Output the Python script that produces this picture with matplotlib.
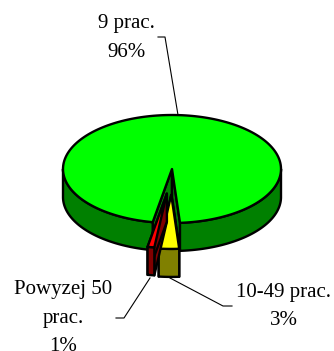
import numpy as np
import matplotlib
matplotlib.use("Agg")
import matplotlib.pyplot as plt
from matplotlib.patches import Polygon

labels = ["9 prac.\n96%", "10-49 prac.\n3%", "Powyzej 50\nprac.\n1%"]
shares = [96, 3, 1]
tops = ["#00ff00", "#ffff00", "#ff0000"]
sides = ["#008000", "#808000", "#800000"]

cx, cy = 172, 169
rx, ry = 109, 54
depth = 28
explode = [0, 0.48, 0.46]
start = -10.2  # degrees from south, going clockwise on screen

plt.rcParams["font.family"] = "Liberation Serif"
fig = plt.figure(figsize=(3.34, 3.51), dpi=100)
ax = fig.add_axes([0, 0, 1, 1])
ax.set_xlim(0, 334)
ax.set_ylim(351, 0)
ax.axis("off")


def rim(a, b, x0, y0):
    t = np.radians(np.linspace(a, b, 200))
    return np.column_stack([x0 + rx * np.sin(t), y0 + ry * np.cos(t)])


def poly(pts, color, z):
    ax.add_patch(Polygon(pts, closed=True, fc=color, ec="black", lw=1.7,
                         joinstyle="round", zorder=z))


def slice3d(a, b, off, top, side, z):
    # a > b, angle falls as the slice runs clockwise on screen
    m = ((a + b) / 2 + 180) % 360 - 180
    mid = np.radians(m * 0.7)
    x0 = cx + off * rx * np.sin(mid)
    y0 = cy + off * ry * np.cos(mid)
    pa = rim(a, a, x0, y0)[0]
    pb = rim(b, b, x0, y0)[0]
    d = np.array([0, depth])
    c = np.array([x0, y0])
    # cut faces first, then the outer wall, then the top
    poly([c, pa, pa + d, c + d], side, z)
    poly([c, pb, pb + d, c + d], side, z)
    for lo, hi in [(-90, 90), (-450, -270)]:
        l = max(lo, b)
        h = min(hi, a)
        if l < h:
            r = rim(h, l, x0, y0)
            poly(np.vstack([r, (r + d)[::-1]]), side, z + 1)
    poly(np.vstack([c, rim(a, b, x0, y0)]), top, z + 2)


angle = start
for i in range(len(shares)):
    span = shares[i] / sum(shares) * 360
    slice3d(angle, angle - span, explode[i], tops[i], sides[i], 2 + i * 3)
    angle -= span

ax.plot([158, 165, 178], [37, 37, 115], color="black", lw=0.8, zorder=1)
ax.plot([170, 223, 232], [278, 306, 306], color="black", lw=0.8, zorder=1)
ax.plot([150, 124, 116], [278, 318, 318], color="black", lw=0.8, zorder=1)

fs = 15
ls = 1.65
ax.text(126, 38, labels[0], ha="center", va="center", fontsize=fs, linespacing=ls)
ax.text(284, 306.5, labels[1], ha="center", va="center", fontsize=fs, linespacing=ls)
ax.text(63, 318, labels[2], ha="center", va="center", fontsize=fs, linespacing=ls)

fig.savefig("out.png", dpi=100)
